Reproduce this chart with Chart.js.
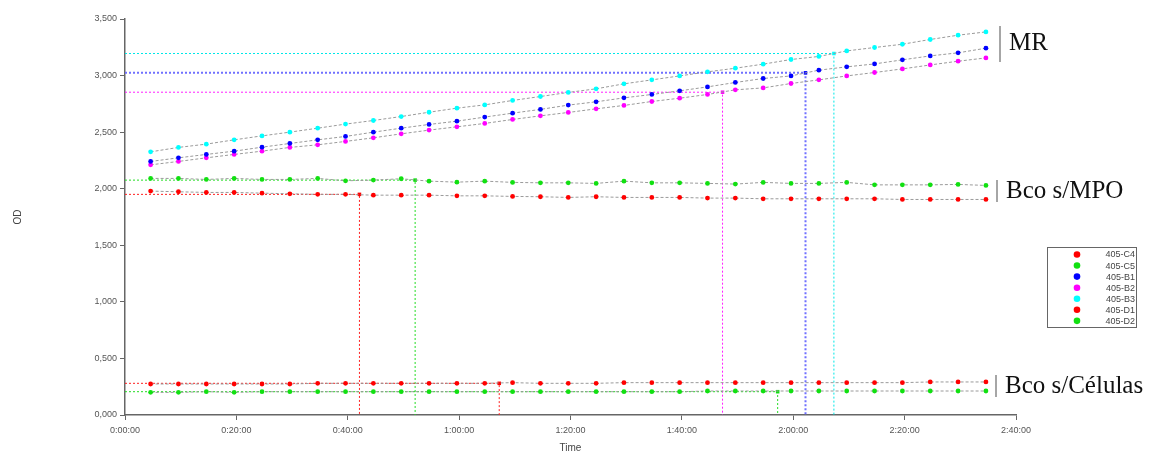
<!DOCTYPE html>
<html>
<head>
<meta charset="utf-8">
<script src="https://cdn.jsdelivr.net/npm/chart.js@4.4.1/dist/chart.umd.min.js"></script>
<style>
  html, body { margin: 0; padding: 0; background: #fff; }
  #wrap { width: 1154px; height: 454px; position: relative; }
</style>
</head>
<body>
<div id="wrap"><canvas id="odChart"></canvas></div>
<script>
// === DATA ===
// read times, in minutes
const times = [4.6, 9.6, 14.6, 19.6, 24.6, 29.6, 34.6, 39.6, 44.6, 49.6, 54.6,
  59.6, 64.6, 69.6, 74.6, 79.6, 84.6, 89.6, 94.6, 99.6, 104.6,
  109.6, 114.6, 119.6, 124.6, 129.6, 134.6, 139.6, 144.6, 149.6, 154.6];

const seriesNames = ["405-C4", "405-C5", "405-B1", "405-B2", "405-B3", "405-D1", "405-D2"];
const seriesColors = ["#ff0000", "#11e011", "#0000ff", "#ff00ff", "#00ffff", "#ff0000", "#11e011"];

const c4 = [1.979, 1.973, 1.967, 1.967, 1.961, 1.955, 1.950, 1.950, 1.943, 1.943, 1.943,
  1.937, 1.937, 1.932, 1.929, 1.923, 1.929, 1.923, 1.923, 1.923, 1.917,
  1.917, 1.911, 1.911, 1.911, 1.911, 1.911, 1.905, 1.905, 1.905, 1.905];
const c5 = [2.091, 2.091, 2.082, 2.091, 2.082, 2.082, 2.091, 2.070, 2.076, 2.088, 2.067,
  2.058, 2.067, 2.056, 2.052, 2.052, 2.047, 2.067, 2.052, 2.052, 2.047,
  2.041, 2.056, 2.047, 2.047, 2.056, 2.034, 2.034, 2.034, 2.038, 2.029];
const b1 = [2.241, 2.273, 2.303, 2.332, 2.367, 2.400, 2.432, 2.462, 2.500, 2.535, 2.568,
  2.597, 2.633, 2.668, 2.701, 2.739, 2.768, 2.803, 2.833, 2.865, 2.900,
  2.939, 2.974, 2.997, 3.048, 3.077, 3.103, 3.139, 3.174, 3.201, 3.242];
const b2 = [2.211, 2.241, 2.273, 2.303, 2.332, 2.365, 2.388, 2.418, 2.450, 2.485, 2.518,
  2.547, 2.577, 2.612, 2.644, 2.674, 2.706, 2.736, 2.771, 2.800, 2.833,
  2.874, 2.891, 2.930, 2.962, 2.997, 3.027, 3.059, 3.094, 3.127, 3.156];
const b3 = [2.326, 2.365, 2.394, 2.432, 2.467, 2.500, 2.535, 2.571, 2.603, 2.638, 2.676,
  2.712, 2.741, 2.780, 2.815, 2.851, 2.883, 2.927, 2.962, 2.997, 3.033,
  3.065, 3.101, 3.142, 3.169, 3.218, 3.248, 3.277, 3.319, 3.357, 3.386];
const d1 = [0.274, 0.274, 0.274, 0.274, 0.274, 0.274, 0.280, 0.280, 0.280, 0.280, 0.280,
  0.280, 0.280, 0.286, 0.280, 0.280, 0.280, 0.286, 0.286, 0.286, 0.286,
  0.286, 0.286, 0.286, 0.286, 0.286, 0.286, 0.286, 0.292, 0.292, 0.292];
const d2 = [0.200, 0.200, 0.206, 0.200, 0.206, 0.206, 0.206, 0.206, 0.206, 0.206, 0.206,
  0.206, 0.206, 0.206, 0.206, 0.206, 0.206, 0.206, 0.206, 0.206, 0.212,
  0.212, 0.212, 0.212, 0.212, 0.212, 0.212, 0.212, 0.212, 0.212, 0.212];
const seriesValues = [c4, c5, b1, b2, b3, d1, d2];

// threshold crossing per series (level in OD, time in minutes)
const refLevels = [1.950, 2.076, 3.024, 2.853, 3.195, 0.280, 0.206];
const refTimes = [42.1, 52.1, 122.2, 107.3, 127.3, 67.2, 117.2];
const refColors = ["#ff2020", "#22dd22", "#7070ff", "#ff20ff", "#00e8e8", "#ff2020", "#22dd22"];

const yTicks = [0, 0.5, 1, 1.5, 2, 2.5, 3, 3.5];

// right side group labels
const groupLabels = [
  { text: "MR", x: 1009, y: 43, barTop: 26, barBottom: 62 },
  { text: "Bco s/MPO", x: 1006, y: 191, barTop: 180, barBottom: 202 },
  { text: "Bco s/Células", x: 1005, y: 386, barTop: 375, barBottom: 397 }
];

// === HELPERS ===
function fmtTime(min) {
  const total = Math.round(min * 60);
  const h = Math.floor(total / 3600);
  const m = Math.floor((total % 3600) / 60);
  const s = total % 60;
  return `${h}:${String(m).padStart(2, "0")}:${String(s).padStart(2, "0")}`;
}

const datasets = [];
seriesNames.forEach((name, i) => {
  datasets.push({
    label: name,
    data: times.map((t, j) => ({ x: t, y: seriesValues[i][j] })),
    borderColor: "#9a9a9a",
    borderWidth: 1,
    borderDash: [3, 2],
    pointRadius: 2.4,
    pointBackgroundColor: seriesColors[i],
    pointBorderWidth: 0,
    order: 1
  });
});
refLevels.forEach((lvl, i) => {
  datasets.push({
    label: "ref-" + seriesNames[i],
    data: [{ x: 0, y: lvl }, { x: refTimes[i], y: lvl }, { x: refTimes[i], y: 0 }],
    borderColor: refColors[i],
    borderWidth: i === 2 ? 2 : 1,
    borderDash: [2, 2],
    pointRadius: [0, 2.5, 0],
    pointStyle: "rect",
    pointBackgroundColor: seriesColors[i],
    pointBorderWidth: 0,
    order: 2
  });
});

// === PLUGINS ===
const boxLegend = {
  id: "boxLegend",
  afterDraw(chart) {
    const { ctx } = chart;
    ctx.save();
    ctx.fillStyle = "#fff";
    ctx.fillRect(1047, 247.5, 90, 80);
    ctx.strokeStyle = "#666";
    ctx.lineWidth = 1;
    ctx.strokeRect(1047.5, 247.5, 89, 80);
    ctx.font = "9px 'Liberation Sans', Arial, sans-serif";
    ctx.textAlign = "right";
    ctx.textBaseline = "middle";
    seriesNames.forEach((name, i) => {
      const y = 254.5 + i * 11.06;
      ctx.fillStyle = seriesColors[i];
      ctx.beginPath();
      ctx.arc(1077, y, 3.3, 0, Math.PI * 2);
      ctx.fill();
      ctx.fillStyle = "#444";
      ctx.fillText(name, 1135, y + 0.5);
    });
    ctx.restore();
  }
};

const groupText = {
  id: "groupText",
  afterDraw(chart) {
    const { ctx } = chart;
    ctx.save();
    groupLabels.forEach(g => {
      ctx.strokeStyle = "#888";
      ctx.lineWidth = 1.5;
      ctx.beginPath();
      ctx.moveTo(g.x - 9, g.barTop);
      ctx.lineTo(g.x - 9, g.barBottom);
      ctx.stroke();
      ctx.fillStyle = "#111";
      ctx.font = "25px 'Liberation Serif', 'DejaVu Serif', serif";
      ctx.textAlign = "left";
      ctx.textBaseline = "middle";
      ctx.fillText(g.text, g.x, g.y);
    });
    ctx.restore();
  }
};

// === CHART ===
new Chart(document.getElementById("odChart"), {
  type: "line",
  data: { datasets },
  options: {
    responsive: true,
    maintainAspectRatio: false,
    animation: false,
    layout: { padding: { left: 0, right: 138, top: 19, bottom: 0 } },
    plugins: {
      legend: { display: false },
      tooltip: { enabled: false }
    },
    scales: {
      x: {
        type: "linear",
        min: 0,
        max: 160,
        afterFit: s => { s.height = 39; },
        ticks: {
          stepSize: 20,
          padding: 5,
          color: "#555",
          font: { family: "'Liberation Sans', Arial, sans-serif", size: 9 },
          callback: v => fmtTime(v),
          maxRotation: 0
        },
        grid: { display: true, drawOnChartArea: false, drawTicks: true, tickLength: 5, tickColor: "#666" },
        border: { color: "#666", width: 1.5 },
        title: {
          display: true,
          text: "Time",
          color: "#444",
          font: { family: "'Liberation Sans', Arial, sans-serif", size: 10 },
          padding: { top: 0, bottom: 0 }
        }
      },
      y: {
        type: "linear",
        min: 0,
        max: 3.5,
        afterFit: s => { s.width = 125; },
        afterBuildTicks: s => { s.ticks = yTicks.map(v => ({ value: v })); },
        ticks: {
          padding: 3,
          color: "#555",
          font: { family: "'Liberation Sans', Arial, sans-serif", size: 9 },
          callback: v => v.toFixed(3).replace(".", ",")
        },
        grid: { display: true, drawOnChartArea: false, drawTicks: true, tickLength: 5, tickColor: "#666" },
        border: { color: "#666", width: 1.5 },
        title: {
          display: true,
          text: "OD",
          color: "#444",
          font: { family: "'Liberation Sans', Arial, sans-serif", size: 10 },
          padding: { top: 12, bottom: 0 }
        }
      }
    }
  },
  plugins: [boxLegend, groupText]
});
</script>
</body>
</html>
